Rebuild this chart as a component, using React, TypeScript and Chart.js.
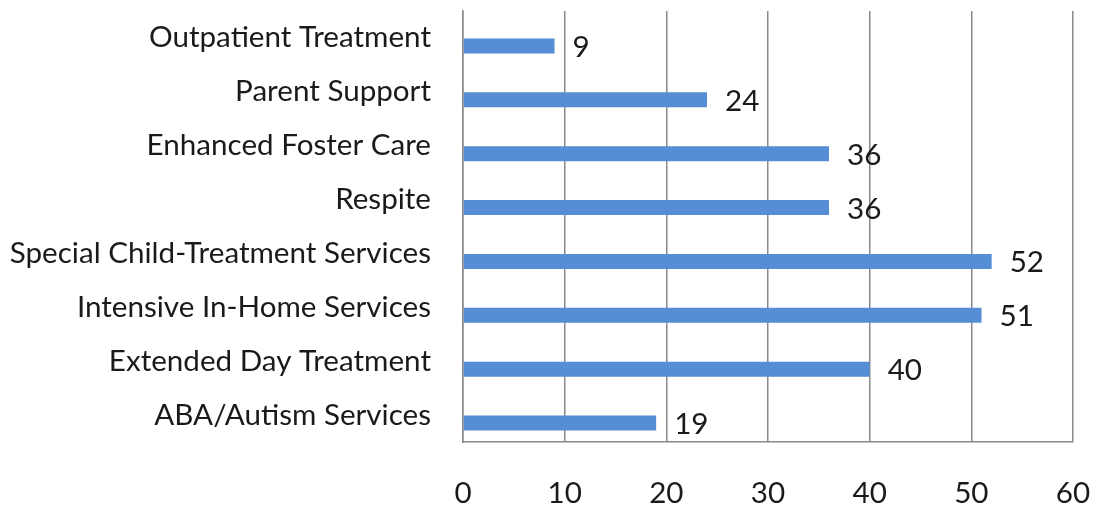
import React, { useEffect, useRef } from "react";
import { Chart, registerables } from "chart.js";

Chart.register(...registerables);

const categories = [
  "Outpatient Treatment",
  "Parent Support",
  "Enhanced Foster Care",
  "Respite",
  "Special Child-Treatment Services",
  "Intensive In-Home Services",
  "Extended Day Treatment",
  "ABA/Autism Services",
];
const values = [9, 24, 36, 36, 52, 51, 40, 19];
const xTicks = [0, 10, 20, 30, 40, 50, 60];

const FONT = "Lato";
const FONT_SIZE = 29.6;
const TEXT = "#1a1a1a";
const GRID = "#8a8a8a";
const BAR = "#558ED5";

const valueLabels = {
  id: "valueLabels",
  afterDatasetsDraw(chart: any) {
    const ctx = chart.ctx;
    const meta = chart.getDatasetMeta(1);
    ctx.save();
    ctx.font = `${FONT_SIZE}px ${FONT}`;
    ctx.fillStyle = TEXT;
    ctx.textAlign = "left";
    ctx.textBaseline = "alphabetic";
    meta.data.forEach((bar: any, i: number) => {
      ctx.fillText(String(values[i]), bar.x + 18, bar.y + 11);
    });
    ctx.restore();
  },
};

export default function App() {
  const ref = useRef<HTMLCanvasElement>(null);
  useEffect(() => {
    if (!ref.current) return;
    const chart = new Chart(ref.current, {
      type: "bar",
      data: {
        labels: categories,
        datasets: [
          { data: categories.map(() => null), backgroundColor: "transparent" },
          {
            data: values,
            backgroundColor: BAR,
            borderWidth: 0,
          },
        ],
      },
      options: {
        indexAxis: "y",
        animation: false,
        responsive: false,
        devicePixelRatio: 1,
        categoryPercentage: 0.594,
        barPercentage: 0.94,
        layout: { padding: { top: 11, right: 26, left: 0, bottom: 0 } },
        plugins: { legend: { display: false }, tooltip: { enabled: false } },
        scales: {
          x: {
            min: 0,
            max: 60,
            afterBuildTicks: (scale: any) => {
              scale.ticks = xTicks.map((v) => ({ value: v }));
            },
            afterFit: (scale: any) => {
              scale.height = 64;
              scale.paddingLeft = 0;
              scale.paddingRight = 0;
            },
            grid: { color: GRID, lineWidth: 1.5, drawTicks: false },
            border: { display: true, color: GRID, width: 1.5 },
            ticks: {
              font: { family: FONT, size: FONT_SIZE },
              color: TEXT,
              padding: 34,
              maxRotation: 0,
            },
          },
          y: {
            afterFit: (scale: any) => {
              scale.width = 463;
              scale.paddingTop = 0;
              scale.paddingBottom = 0;
            },
            grid: { display: false, drawTicks: false },
            border: { display: true, color: GRID, width: 1.5 },
            ticks: {
              font: { family: FONT, size: FONT_SIZE },
              color: TEXT,
              padding: 32,
              autoSkip: false,
            },
          },
        },
      },
      plugins: [valueLabels],
    });
    return () => chart.destroy();
  }, []);
  return (
    <div style={{ position: "absolute", left: 0, top: 0, width: 1099, height: 506, background: "#fff" }}>
      <canvas ref={ref} width={1099} height={506} style={{ display: "block" }} />
    </div>
  );
}
